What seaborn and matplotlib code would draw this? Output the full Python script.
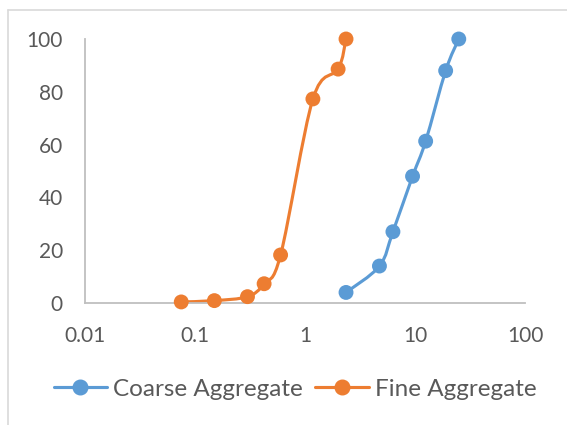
import numpy as np
import matplotlib
matplotlib.use("Agg")
import matplotlib.pyplot as plt
import seaborn as sns
import pandas as pd
from matplotlib.path import Path
from matplotlib.patches import PathPatch
from matplotlib.lines import Line2D

# Data
coarse_size = [2.36, 4.75, 6.3, 9.5, 12.5, 19.0, 25.0]
coarse_pass = [4.0, 14.0, 27.0, 48.0, 61.3, 88.0, 100.0]
fine_size = [0.075, 0.15, 0.3, 0.425, 0.6, 1.18, 2.0, 2.36]
fine_pass = [0.4, 0.9, 2.4, 7.3, 18.2, 77.3, 88.6, 100.0]
series_names = ["Coarse Aggregate", "Fine Aggregate"]
x_ticks = [0.01, 0.1, 1, 10, 100]
x_tick_labels = ["0.01", "0.1", "1", "10", "100"]
y_ticks = [0, 20, 40, 60, 80, 100]

BLUE = "#5B9BD5"
ORANGE = "#ED7D31"
TXT = "#595959"
AX = "#BFBFBF"

sns.set_theme(style="white")
plt.rcParams["font.family"] = ["Lato", "DejaVu Sans"]

fig = plt.figure(figsize=(5.67, 4.25), dpi=100)
W, H = 567, 425
ax = fig.add_axes([85 / W, 1 - 303 / H, (525 - 85) / W, (303 - 39) / H])
ax.set_xscale("log")
ax.set_xlim(0.01, 100)
ax.set_ylim(0, 100)


def smooth_path(xs, ys):
    # Excel-like smoothed line: cubic Bezier through points in (log10 x, y)
    u = np.log10(np.asarray(xs, float))
    v = np.asarray(ys, float)
    P = np.column_stack([u, v])
    n = len(P)
    verts = [P[0]]
    codes = [Path.MOVETO]
    for i in range(n - 1):
        p0 = P[i - 1] if i > 0 else P[i]
        p1 = P[i]
        p2 = P[i + 1]
        p3 = P[i + 2] if i + 2 < n else P[i + 1]
        c1 = p1 + (p2 - p0) / 6.0
        c2 = p2 - (p3 - p1) / 6.0
        verts += [c1, c2, p2]
        codes += [Path.CURVE4] * 3
    verts = np.array(verts)
    verts[:, 0] = 10 ** verts[:, 0]
    return Path(verts, codes)


for xs, ys, c in [(coarse_size, coarse_pass, BLUE), (fine_size, fine_pass, ORANGE)]:
    patch = PathPatch(smooth_path(xs, ys), facecolor="none", edgecolor=c,
                      lw=2.25, capstyle="round", joinstyle="round", zorder=2)
    ax.add_patch(patch)

df = pd.concat([
    pd.DataFrame({"size": coarse_size, "pass": coarse_pass, "series": series_names[0]}),
    pd.DataFrame({"size": fine_size, "pass": fine_pass, "series": series_names[1]}),
])
sns.scatterplot(data=df, x="size", y="pass", hue="series",
                palette=[BLUE, ORANGE], s=115, linewidth=0, legend=False,
                ax=ax, zorder=3, clip_on=False)

ax.set_xticks(x_ticks)
ax.set_xticklabels(x_tick_labels)
ax.set_yticks(y_ticks)
ax.minorticks_off()
ax.set_xlabel("")
ax.set_ylabel("")
ax.tick_params(axis="both", length=0, labelsize=15, colors=TXT)
ax.tick_params(axis="x", pad=16.5)
ax.tick_params(axis="y", pad=16)
for s in ["top", "right"]:
    ax.spines[s].set_visible(False)
for s in ["left", "bottom"]:
    ax.spines[s].set_color(AX)
    ax.spines[s].set_linewidth(1.3)

handles = [Line2D([], [], color=BLUE, lw=2.25, marker="o", markersize=10.5),
           Line2D([], [], color=ORANGE, lw=2.25, marker="o", markersize=10.5)]
leg = fig.legend(handles, series_names, loc="center", bbox_to_anchor=(295 / W, 1 - 389 / H),
                 ncol=2, frameon=False, fontsize=17.5, handlelength=2.2,
                 columnspacing=0.5, handletextpad=0.25, labelcolor=TXT)

# Chart border (partial, as in reference)
fig.add_artist(Line2D([7.5 / W, 7.5 / W], [0, 1 - 9.5 / H], color="#D9D9D9", lw=1.2,
                      transform=fig.transFigure))
fig.add_artist(Line2D([7.5 / W, 1], [1 - 9.5 / H, 1 - 9.5 / H], color="#D9D9D9", lw=1.2,
                      transform=fig.transFigure))

fig.savefig("out.png", dpi=100)
